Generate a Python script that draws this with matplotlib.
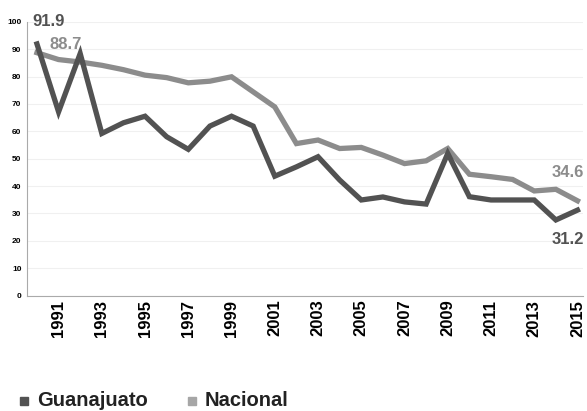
import numpy as np
import matplotlib.pyplot as plt
from matplotlib.patches import Rectangle

plt.rcParams["font.family"] = ["Liberation Sans", "DejaVu Sans"]

years = list(range(1990, 2016))
guanajuato = [91.9, 67.1, 88.4, 59.2, 63.1, 65.5, 58.0, 53.4, 61.9, 65.5, 61.9, 43.6, 47.0,
              50.7, 42.2, 34.9, 36.0, 34.2, 33.4, 51.9, 36.1, 34.9, 34.9, 34.9, 27.6, 31.2]
nacional = [88.7, 86.2, 85.3, 84.1, 82.5, 80.5, 79.6, 77.7, 78.3, 79.9, 74.4, 68.9, 55.5,
            56.8, 53.7, 54.1, 51.3, 48.2, 49.2, 53.7, 44.3, 43.4, 42.4, 38.2, 38.8, 34.6]
tick_years = list(range(1991, 2016, 2))

c_dark = "#525252"
c_light = "#8c8c8c"

fig = plt.figure(figsize=(5.87, 4.11), dpi=100)
ax = fig.add_axes([0.046, 0.281, 0.947, 0.666])

ax.plot(years, nacional, color=c_light, lw=3.8, solid_joinstyle="miter")
ax.plot(years, guanajuato, color=c_dark, lw=3.8, solid_joinstyle="miter")

ax.set_xlim(1989.54, 2015.25)
ax.set_ylim(0, 100)
ax.set_yticks(range(0, 101, 10))
ax.set_xticks(tick_years)
ax.set_xticklabels([str(y) for y in tick_years], rotation=90, fontsize=12, fontweight="bold")
ax.tick_params(axis="y", labelsize=6, length=0, pad=4)
ax.tick_params(axis="x", length=0, pad=3)
for lab in ax.get_yticklabels():
    lab.set_fontweight("bold")
ax.grid(axis="y", color="#f0f0f0", lw=0.8)
ax.set_axisbelow(True)
for s in ["top", "right"]:
    ax.spines[s].set_visible(False)
ax.spines["left"].set_color("#aaaaaa")
ax.spines["bottom"].set_color("#aaaaaa")

# etiquetas de inicio y fin
ax.text(1989.77, 100, f"{guanajuato[0]}", color=c_dark, fontsize=12, fontweight="bold",
        va="center", ha="left", clip_on=False)
ax.text(1990.6, 91.6, f"{nacional[0]}", color=c_light, fontsize=12, fontweight="bold",
        va="center", ha="left", clip_on=False)
ax.text(2015.32, 45, f"{nacional[-1]}", color=c_light, fontsize=12, fontweight="bold",
        va="center", ha="right", clip_on=False)
ax.text(2015.32, 20.3, f"{guanajuato[-1]}", color=c_dark, fontsize=12, fontweight="bold",
        va="center", ha="right", clip_on=False)

# leyenda
fig.patches.append(Rectangle((20 / 587, 6 / 411), 8 / 587, 8 / 411, color=c_dark,
                             transform=fig.transFigure, figure=fig))
fig.text(37 / 587, 0.013, "Guanajuato", color="#222222", fontsize=14.5, fontweight="bold", va="baseline")
fig.patches.append(Rectangle((188 / 587, 6 / 411), 8 / 587, 8 / 411, color="#a6a6a6",
                             transform=fig.transFigure, figure=fig))
fig.text(205 / 587, 0.013, "Nacional", color="#222222", fontsize=14.5, fontweight="bold", va="baseline")

fig.savefig("out.png", dpi=100)
